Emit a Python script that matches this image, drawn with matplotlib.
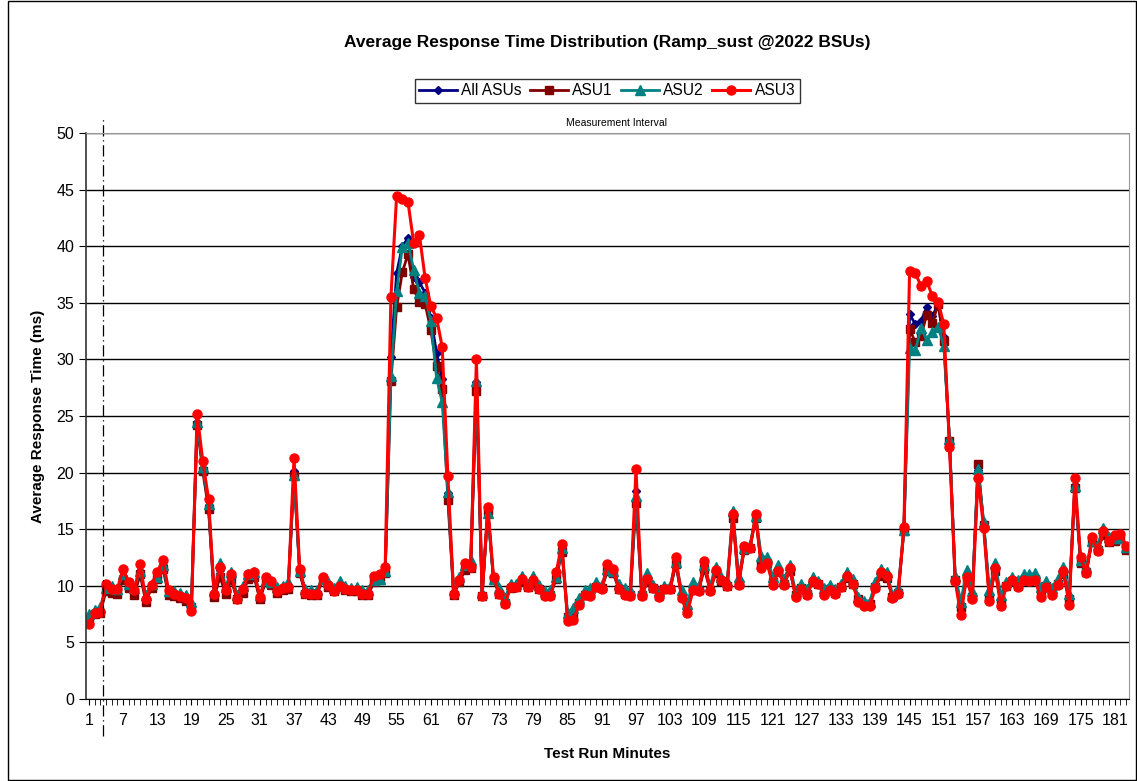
import numpy as np
import matplotlib.pyplot as plt
from matplotlib.patches import Rectangle
from matplotlib.transforms import blended_transform_factory

plt.rcParams['font.family'] = ['Liberation Sans', 'DejaVu Sans']

# 测试分钟
minutes = np.arange(1, 184)

all_asus = [
    7.1, 7.6, 7.8, 9.8, 9.7, 9.5, 10.9, 10.1, 9.5, 11.3,
    8.9, 10.0, 10.8, 11.8, 9.4, 9.3, 9.1, 8.9, 8.2, 24.5,
    20.4, 17.1, 9.2, 11.4, 9.6, 10.9, 8.9, 9.7, 10.8, 11.0,
    8.9, 10.5, 10.2, 9.6, 9.8, 10.0, 20.1, 11.3, 9.4, 9.4,
    9.4, 10.6, 10.1, 9.6, 10.1, 9.8, 9.6, 9.7, 9.4, 9.4,
    10.5, 10.7, 11.3, 30.2, 37.6, 40.0, 40.7, 37.3, 36.8, 35.9,
    33.7, 30.6, 28.3, 18.2, 9.4, 10.5, 11.7, 11.9, 28.0, 9.2,
    16.7, 10.6, 9.5, 8.6, 10.0, 10.0, 10.6, 10.0, 10.5, 9.8,
    9.3, 9.3, 10.9, 13.3, 7.3, 7.5, 8.6, 9.3, 9.4, 10.0,
    9.9, 11.6, 11.3, 9.9, 9.4, 9.3, 18.4, 9.3, 10.6, 9.9,
    9.2, 9.8, 9.8, 12.1, 9.2, 7.9, 9.9, 9.7, 11.8, 9.7,
    11.4, 10.6, 10.1, 16.3, 10.4, 13.3, 13.4, 16.1, 12.0, 12.2,
    10.4, 11.4, 10.3, 11.5, 9.2, 9.9, 9.4, 10.5, 10.3, 9.5,
    9.8, 9.5, 10.0, 10.9, 10.3, 8.8, 8.4, 8.4, 10.0, 11.2,
    10.9, 9.0, 9.5, 15.0, 34.0, 33.1, 33.4, 34.6, 33.8, 34.9,
    32.0, 22.7, 10.6, 7.9, 10.9, 9.1, 20.2, 15.4, 9.0, 11.6,
    8.6, 10.1, 10.6, 10.1, 10.7, 10.6, 10.7, 9.4, 10.1, 9.5,
    10.3, 11.3, 8.8, 18.9, 12.2, 11.3, 14.0, 13.3, 14.8, 14.1,
    14.2, 14.3, 13.3,
]

asu1 = [
    7.0, 7.5, 7.6, 9.5, 9.4, 9.3, 10.5, 9.8, 9.2, 11.0,
    8.6, 9.8, 10.6, 11.5, 9.2, 9.1, 8.9, 8.7, 8.1, 24.2,
    20.1, 16.8, 9.0, 10.8, 9.3, 10.5, 8.8, 9.4, 10.6, 10.8,
    8.8, 10.3, 10.1, 9.4, 9.6, 9.7, 19.7, 11.1, 9.3, 9.2,
    9.2, 10.5, 9.9, 9.5, 9.9, 9.6, 9.5, 9.5, 9.2, 9.2,
    10.3, 10.5, 11.1, 28.1, 34.6, 37.7, 39.3, 36.2, 35.1, 34.9,
    32.6, 29.4, 27.4, 17.6, 9.2, 10.3, 11.4, 11.6, 27.2, 9.1,
    16.6, 10.5, 9.3, 8.5, 9.8, 9.9, 10.3, 9.9, 10.2, 9.7,
    9.2, 9.2, 10.6, 13.0, 7.2, 7.4, 8.5, 9.2, 9.3, 9.9,
    9.8, 11.3, 11.1, 9.7, 9.3, 9.2, 17.3, 9.2, 10.3, 9.8,
    9.1, 9.7, 9.7, 11.9, 9.0, 7.9, 9.7, 9.6, 11.5, 9.6,
    11.1, 10.4, 10.0, 16.0, 10.2, 13.2, 13.3, 16.0, 11.8, 12.0,
    10.3, 11.2, 10.2, 11.3, 9.2, 9.8, 9.3, 10.3, 10.2, 9.4,
    9.7, 9.4, 9.9, 10.7, 10.2, 8.8, 8.4, 8.4, 9.9, 10.9,
    10.7, 9.0, 9.4, 14.8, 32.7, 31.5, 32.1, 33.9, 33.2, 34.9,
    31.6, 22.8, 10.5, 8.1, 10.6, 9.0, 20.8, 15.4, 8.9, 11.3,
    8.5, 10.0, 10.4, 10.0, 10.5, 10.4, 10.6, 9.4, 10.0, 9.4,
    10.2, 11.0, 8.8, 18.6, 12.0, 11.2, 13.9, 13.2, 14.5, 13.9,
    14.0, 14.1, 13.2,
]

asu2 = [
    7.5, 7.9, 8.1, 9.8, 10.0, 9.7, 11.0, 10.2, 9.8, 11.3,
    9.2, 10.2, 10.8, 11.8, 9.5, 9.5, 9.4, 9.2, 8.6, 24.5,
    20.5, 17.2, 9.5, 12.0, 9.9, 11.2, 9.2, 10.0, 11.0, 11.2,
    9.2, 10.5, 10.3, 9.9, 10.0, 10.3, 19.8, 11.3, 9.7, 9.6,
    9.6, 10.6, 10.3, 9.8, 10.4, 10.0, 9.8, 9.9, 9.6, 9.6,
    10.5, 10.6, 11.3, 28.5, 36.0, 39.9, 40.3, 37.9, 35.9, 35.6,
    33.4, 28.4, 26.2, 18.3, 9.6, 10.8, 11.8, 12.3, 28.1, 9.4,
    16.4, 10.6, 9.8, 8.9, 10.2, 10.2, 10.9, 10.2, 10.9, 10.1,
    9.5, 9.6, 10.8, 13.3, 7.6, 8.0, 8.9, 9.6, 9.8, 10.3,
    10.1, 11.5, 11.3, 10.2, 9.8, 9.6, 17.9, 9.6, 11.1, 10.1,
    9.5, 10.0, 10.0, 12.1, 9.6, 8.4, 10.3, 10.0, 11.8, 10.0,
    11.7, 10.8, 10.4, 16.6, 10.8, 13.3, 13.6, 16.2, 12.6, 12.5,
    10.8, 11.8, 10.6, 11.8, 9.5, 10.2, 9.7, 10.8, 10.4, 9.8,
    10.1, 9.7, 10.2, 11.2, 10.6, 9.0, 8.7, 8.6, 10.3, 11.5,
    11.2, 9.2, 9.8, 14.9, 31.0, 30.8, 32.8, 31.7, 32.4, 32.9,
    31.2, 23.0, 10.9, 8.6, 11.4, 9.5, 20.3, 15.6, 9.6, 12.0,
    9.2, 10.3, 10.8, 10.5, 11.0, 11.0, 11.1, 9.9, 10.4, 9.8,
    10.6, 11.7, 9.3, 18.8, 12.3, 11.7, 14.0, 13.6, 15.1, 14.3,
    14.2, 14.2, 13.4,
]

asu3 = [
    6.6, 7.6, 7.7, 10.2, 9.7, 9.7, 11.5, 10.3, 9.6, 11.9,
    8.8, 10.1, 11.2, 12.3, 9.6, 9.3, 9.1, 8.9, 7.8, 25.2,
    21.0, 17.7, 9.3, 11.7, 9.6, 11.0, 8.8, 9.7, 11.0, 11.2,
    9.0, 10.8, 10.4, 9.5, 9.8, 9.9, 21.3, 11.5, 9.4, 9.3,
    9.3, 10.8, 10.1, 9.5, 10.0, 9.7, 9.6, 9.6, 9.3, 9.3,
    10.9, 11.0, 11.7, 35.5, 44.4, 44.2, 43.9, 40.3, 41.0, 37.2,
    34.7, 33.7, 31.1, 19.7, 9.3, 10.5, 12.0, 11.7, 30.0, 9.1,
    17.0, 10.8, 9.3, 8.4, 9.9, 9.9, 10.6, 9.9, 10.5, 9.7,
    9.1, 9.1, 11.2, 13.7, 6.9, 7.0, 8.3, 9.2, 9.1, 9.9,
    9.7, 11.9, 11.5, 9.7, 9.2, 9.1, 20.3, 9.1, 10.6, 9.8,
    9.0, 9.7, 9.7, 12.5, 8.9, 7.6, 9.6, 9.5, 12.2, 9.5,
    11.4, 10.5, 10.0, 16.3, 10.1, 13.5, 13.3, 16.3, 11.6, 12.0,
    10.1, 11.3, 10.1, 11.6, 9.0, 9.7, 9.2, 10.4, 10.2, 9.2,
    9.6, 9.3, 9.9, 10.9, 10.2, 8.6, 8.2, 8.2, 9.8, 11.2,
    10.9, 8.9, 9.3, 15.2, 37.8, 37.6, 36.5, 36.9, 35.6, 35.1,
    33.1, 22.3, 10.4, 7.4, 10.8, 8.8, 19.5, 15.1, 8.7, 11.6,
    8.2, 10.0, 10.5, 9.9, 10.5, 10.4, 10.5, 9.0, 9.9, 9.2,
    10.1, 11.3, 8.3, 19.5, 12.5, 11.1, 14.3, 13.1, 14.8, 14.0,
    14.5, 14.6, 13.5,
]

tick_labels = list(range(1, 184, 6))

fig = plt.figure(figsize=(11.37, 7.81), dpi=100)
ax = fig.add_axes([0.0756, 0.105, 0.9174, 0.7247])

ax.plot(minutes, all_asus, color='#000080', lw=2.0, marker='D', ms=4.5, label='All ASUs')
ax.plot(minutes, asu1, color='#800000', lw=2.0, marker='s', ms=5.5, label='ASU1')
ax.plot(minutes, asu2, color='#008080', lw=2.0, marker='^', ms=6.5, label='ASU2')
ax.plot(minutes, asu3, color='#FF0000', lw=2.2, marker='o', ms=6.5, label='ASU3')

ax.set_xlim(0.5, 183.5)
ax.set_ylim(0, 50)
ax.set_yticks(range(0, 51, 5))
ax.set_xticks(tick_labels)
ax.set_xticks(minutes, minor=True)
ax.tick_params(axis='x', which='major', length=4, direction='out', labelsize=11.5, pad=6)
ax.tick_params(axis='x', which='minor', length=4, direction='out')
ax.tick_params(axis='y', length=5, direction='out', labelsize=11.5)
ax.yaxis.grid(True, color='black', lw=1)
ax.set_axisbelow(True)
for s in ['top', 'right']:
    ax.spines[s].set_color('#999999')
ax.spines['left'].set_color('#333333')
ax.spines['left'].set_linewidth(1.2)

ax.set_ylabel('Average Response Time (ms)', fontsize=11, fontweight='bold', labelpad=8)
ax.set_xlabel('Test Run Minutes', fontsize=11, fontweight='bold', labelpad=14)
ax.set_title('Average Response Time Distribution (Ramp_sust @2022 BSUs)',
             fontsize=12.5, fontweight='bold', pad=62)

# 测量区间
trans = blended_transform_factory(ax.transData, ax.transAxes)
ax.plot([3.5, 3.5], [-0.065, 1.027], color='black', lw=0.9,
        linestyle=(0, (9, 3, 1, 3)), transform=trans, clip_on=False)
ax.text(93.5, 1.008, 'Measurement Interval', transform=trans,
        ha='center', va='bottom', fontsize=7.5)

ax.legend(loc='center', bbox_to_anchor=(0.534, 0.8835), bbox_transform=fig.transFigure,
          ncol=4, fontsize=11.2, frameon=True, fancybox=False, edgecolor='black',
          handlelength=2.4, handletextpad=0.3, columnspacing=0.55, borderpad=0.3,
          borderaxespad=0)

fig.patches.append(Rectangle((0.007, 0.001), 0.992, 0.998, transform=fig.transFigure,
                             fill=False, edgecolor='black', lw=1))

plt.savefig('out.png', dpi=100)
